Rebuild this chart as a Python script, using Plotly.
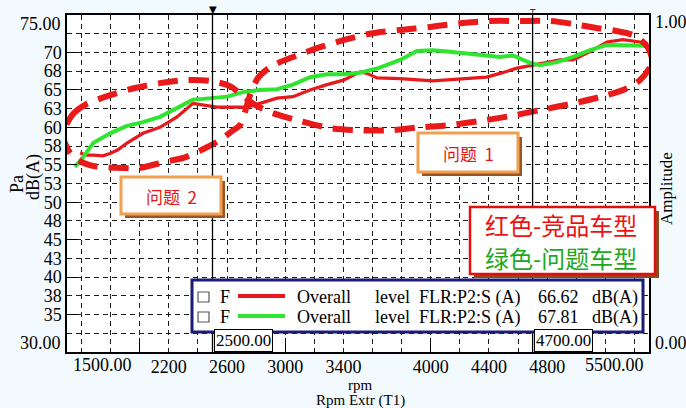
import plotly.graph_objects as go

# Overall level FLR:P2:S (A) versus engine speed
rpm_red = [1590, 1624, 1680, 1747, 1796, 1850, 1912, 2022, 2139, 2256, 2366, 2435, 2531,
           2668, 2737, 2826, 2943, 3053, 3170, 3287, 3400, 3514, 3562, 3631, 3789, 4015,
           4249, 4385, 4476, 4593, 4703, 4888, 4978, 5095, 5211, 5321, 5439, 5490]
db_red = [56.6, 56.3, 56.3, 56.2, 56.5, 57.0, 57.9, 59.2, 60.0, 61.4, 63.2, 63.0, 62.7,
          62.7, 62.7, 63.2, 63.9, 64.1, 65.0, 65.7, 66.3, 67.4, 67.2, 66.6, 66.5, 66.2,
          66.5, 66.7, 67.2, 67.9, 68.3, 69.0, 69.0, 70.1, 71.4, 71.7, 71.4, 71.2]

rpm_green = [1555, 1610, 1680, 1796, 1912, 2022, 2139, 2256, 2366, 2435, 2503, 2600, 2710,
             2826, 2943, 3053, 3170, 3287, 3400, 3514, 3640, 3789, 3905, 4015, 4132, 4249,
             4359, 4476, 4565, 4682, 4751, 4868, 4978, 5095, 5211, 5321, 5490]
db_green = [54.7, 56.0, 57.9, 59.2, 60.2, 60.7, 61.4, 62.6, 63.7, 63.8, 63.9, 64.1, 64.7,
            65.0, 65.1, 65.7, 66.7, 67.1, 67.1, 67.3, 67.9, 69.0, 70.2, 70.3, 70.1, 69.9,
            69.6, 69.4, 69.6, 68.6, 68.3, 68.7, 69.4, 70.3, 71.0, 71.0, 70.9]

overall_red = "66.62"
overall_green = "67.81"

cursor_rpm = [2500, 4700]

# Hand-drawn figure-eight outline marking the two problem zones
loop_rpm = [1473, 1534, 1624, 1782, 1967, 2139, 2311, 2483, 2620, 2710, 2792, 2916, 3101,
            3308, 3514, 3720, 3926, 4132, 4339, 4545, 4751, 4957, 5163, 5335, 5438, 5521,
            5494, 5404, 5266, 5129, 4978, 4820, 4613, 4407, 4201, 3995, 3789, 3582, 3411,
            3239, 3067, 2909, 2813, 2758, 2723, 2689, 2634, 2552, 2448, 2311, 2174, 2002,
            1830, 1692, 1589, 1521, 1473]
loop_db = [59.0, 61.6, 63.0, 64.2, 65.25, 65.9, 66.3, 66.2, 65.5, 64.2, 63.0, 61.9, 60.85,
           59.9, 59.6, 59.6, 60.0, 60.3, 60.85, 61.5, 62.3, 63.1, 64.05, 65.1, 66.3, 68.7,
           70.6, 72.2, 72.9, 73.3, 73.8, 74.2, 74.2, 74.2, 73.9, 73.4, 73.0, 72.5, 71.7,
           70.7, 69.5, 68.2, 66.6, 64.3, 62.05, 60.3, 59.5, 58.3, 57.2, 56.0, 55.4, 54.6,
           54.6, 54.8, 55.5, 56.6, 59.0]

y_tick_vals = [32.5, 35, 37.5, 40, 42.5, 45, 47.5, 50, 52.5, 55, 57.5, 60, 62.5, 65, 67.5, 70, 72.5]
y_tick_text = ["", "35", "38", "40", "43", "45", "48", "50", "53", "55", "58", "60", "63", "65", "68", "70", ""]
y_major = [35, 40, 45, 50, 55, 60, 65, 70]

x_grid_vals = list(range(1600, 5500, 200))
x_labels = {2200: "2200", 2600: "2600", 3000: "3000", 3400: "3400",
            4000: "4000", 4400: "4400", 4800: "4800"}
x_major = [2000, 3000, 4000, 5000]

RED = "#e8191c"
GREEN = "#2fe52f"
DASH_RED = "#ea1a1a"
SERIF = "Liberation Serif, Times New Roman, serif"
CJK = "Noto Sans CJK SC"
FS = 18

W, H = 686, 408
L, R, T, B = 67, 37, 15, 56
PW, PH = W - L - R, H - T - B


def px(x):
    return (x - L) / PW


def py(y):
    return (H - B - y) / PH


fig = go.Figure()

fig.add_trace(go.Scatter(x=rpm_red, y=db_red, mode="lines",
                         line=dict(color=RED, width=3.2), showlegend=False))
fig.add_trace(go.Scatter(x=rpm_green, y=db_green, mode="lines",
                         line=dict(color=GREEN, width=4), showlegend=False))
fig.add_trace(go.Scatter(x=loop_rpm, y=loop_db, mode="lines",
                         line=dict(color=DASH_RED, width=6, dash="20px,11px",
                                   shape="spline", smoothing=0.8),
                         showlegend=False))

# cursor lines on the overlay axes that carry the major tick marks
for c in cursor_rpm:
    fig.add_trace(go.Scatter(x=[c, c], y=[30, 75], mode="lines", xaxis="x2", yaxis="y3",
                             line=dict(color="black", width=1.3), showlegend=False))

grid = dict(showgrid=True, gridcolor="#1e1e1e", gridwidth=1.4, griddash="5px,4px")

fig.update_layout(
    width=W, height=H,
    margin=dict(l=L, r=R, t=T, b=B),
    paper_bgcolor="#f3fafd",
    plot_bgcolor="white",
    showlegend=False,
    xaxis=dict(range=[1500, 5500], tickvals=x_grid_vals,
               ticktext=[x_labels.get(v, "") for v in x_grid_vals],
               ticks="", ticklabelstandoff=-2,
               showline=True, mirror=True, linecolor="black", linewidth=1.5,
               zeroline=False, tickfont=dict(family=SERIF, size=FS, color="black"), **grid),
    yaxis=dict(range=[30, 75], tickvals=y_tick_vals, ticktext=y_tick_text,
               ticks="", showline=True, mirror=True, linecolor="black", linewidth=1.5,
               zeroline=False, tickfont=dict(family=SERIF, size=FS, color="black"), **grid),
    xaxis2=dict(range=[1500, 5500], overlaying="x", anchor="y3", side="bottom",
                tickvals=x_major, ticks="inside", ticklen=14, tickwidth=1.3,
                tickcolor="black", showticklabels=False, showgrid=False,
                showline=False, zeroline=False),
    yaxis3=dict(range=[30, 75], overlaying="y", anchor="x2", side="left",
                tickvals=y_major, ticks="inside", ticklen=10, tickwidth=1.3,
                tickcolor="black", showticklabels=False, showgrid=False,
                showline=False, zeroline=False),
)

shapes = []
ann = []


def text(x, y, s, size=FS, color="black", family=SERIF, xanchor="center",
         yanchor="middle", angle=0):
    ann.append(dict(x=px(x), y=py(y), xref="paper", yref="paper", text=s,
                    showarrow=False, xanchor=xanchor, yanchor=yanchor, textangle=angle,
                    font=dict(family=family, size=size, color=color)))


def box(x0, y0, x1, y1, border, width, shadow=None, off=4):
    if shadow:
        shapes.append(dict(type="rect", xref="paper", yref="paper",
                           x0=px(x0 + off), x1=px(x1 + off), y0=py(y1 + off), y1=py(y0 + off),
                           fillcolor=shadow, line=dict(width=0), layer="above"))
    shapes.append(dict(type="rect", xref="paper", yref="paper",
                       x0=px(x0), x1=px(x1), y0=py(y1), y1=py(y0),
                       fillcolor="white", line=dict(color=border, width=width), layer="above"))


# end tick labels sit inside the axis span
text(63, 24, "75.00", xanchor="right")
text(63, 343, "30.00", xanchor="right")
text(71, 365, "1500.00", xanchor="left")
text(646, 365, "5500.00", xanchor="right")
text(653, 22, "1.00", xanchor="left")
text(653, 343, "0.00", xanchor="left")

# axis titles
text(17, 184, "Pa", angle=-90)
text(34, 177, "dB(A)", angle=-90)
text(360, 385, "rpm", size=15)
text(360, 400, "Rpm Extr (T1)", size=15)
text(666, 188, "Amplitude", size=17, angle=-90)

# cursor readouts
for c in cursor_rpm:
    ann.append(dict(x=c, y=30, xref="x", yref="y", text=f"{c:.2f}", showarrow=False,
                    xanchor="left", yanchor="bottom", xshift=1,
                    bgcolor="white", bordercolor="black", borderwidth=1, borderpad=1,
                    font=dict(family=SERIF, size=17, color="black")))
ann.append(dict(x=cursor_rpm[0], y=75, xref="x", yref="y", text="▼", showarrow=False,
                yanchor="bottom", yshift=-2, font=dict(family="DejaVu Sans", size=10, color="black")))
ann.append(dict(x=cursor_rpm[1], y=75, xref="x", yref="y", text="┬", showarrow=False,
                yanchor="bottom", yshift=-3, font=dict(family="DejaVu Sans", size=9, color="black")))

# problem-zone tags
box(418, 133, 518, 172, "#f0a050", 3, shadow="#9b5520")
text(468, 153, "问题  1", size=17, color="#e01818", family=CJK)
box(121, 177, 221, 214, "#f0a050", 3, shadow="#9b5520")
text(171, 196, "问题  2", size=17, color="#e01818", family=CJK)

# colour key
box(470, 207, 655, 274, "#e01010", 2.5, shadow="#8a4a1e", off=4)
text(561, 224, "红色-竞品车型", size=24, color="#ee1111", family=CJK)
text(561, 257, "绿色-问题车型", size=24, color="#1ea81e", family=CJK)

# level readout box
box(192, 280, 643, 332, "#1c1c78", 3)
rows = [(297, RED, overall_red), (317, GREEN, overall_green)]
for yrow, col, val in rows:
    shapes.append(dict(type="rect", xref="paper", yref="paper",
                       x0=px(198), x1=px(209), y0=py(yrow + 5), y1=py(yrow - 5),
                       line=dict(color="#555", width=1.2), fillcolor="white", layer="above"))
    text(218, yrow, "F", xanchor="left")
    shapes.append(dict(type="line", xref="paper", yref="paper",
                       x0=px(238), x1=px(285), y0=py(yrow - 1), y1=py(yrow - 1),
                       line=dict(color=col, width=4), layer="above"))
    for xs, s in [(295, "Overall"), (373, "level"), (417, "FLR:P2:S (A)"),
                  (536, val), (590, "dB(A)")]:
        text(xs, yrow, s, xanchor="left")

fig.update_layout(shapes=shapes, annotations=ann)

fig.write_html("out.html")
